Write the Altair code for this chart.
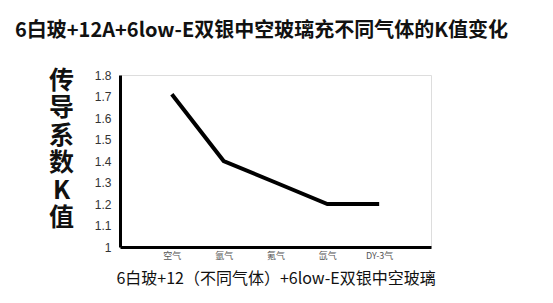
import altair as alt
import pandas as pd

gases = ["空气", "氩气", "氪气", "氙气", "DY-3气"]
k_values = [1.71, 1.40, 1.30, 1.20, 1.20]
y_ticks = [1.0, 1.1, 1.2, 1.3, 1.4, 1.5, 1.6, 1.7, 1.8]

df = pd.DataFrame({"gas": gases, "k": k_values})

FONT = "Noto Sans CJK SC"

chart = alt.Chart(df).mark_line(color="black", strokeWidth=4).encode(
    x=alt.X("gas:N", sort=gases,
            scale=alt.Scale(type="point", padding=1),
            axis=alt.Axis(title="6白玻+12（不同气体）+6low-E双银中空玻璃",
                          titleFont=FONT, titleFontSize=16, titleFontWeight="normal",
                          titleColor="#111", titlePadding=10,
                          labelFont=FONT, labelFontSize=9, labelColor="#555",
                          labelAngle=0, labelPadding=4,
                          ticks=False, grid=False,
                          domainColor="black", domainWidth=3)),
    y=alt.Y("k:Q",
            scale=alt.Scale(domain=[1.0, 1.8], nice=False, zero=False),
            axis=alt.Axis(values=y_ticks, labelExpr="format(datum.value, '')",
                          title=["传", "导", "系", "数", "K", "值"],
                          titleAngle=0, titleFont=FONT, titleFontSize=25,
                          titleFontWeight="bold", titleColor="#111",
                          titleLineHeight=27.5, titleAlign="center",
                          titleBaseline="top", titleX=-59, titleY=-7,
                          labelFont="Liberation Sans", labelFontSize=12,
                          labelColor="#333", labelPadding=9,
                          ticks=False, grid=False,
                          domainColor="black", domainWidth=3)),
).properties(
    width=311, height=172,
    title=alt.TitleParams("6白玻+12A+6low-E双银中空玻璃充不同气体的K值变化",
                          font=FONT, fontSize=20, fontWeight="bold",
                          color="#111", anchor="middle", offset=27, dx=-14),
    autosize=alt.AutoSizeParams(type="none"),
    padding={"left": 120, "top": 75, "right": 122, "bottom": 56},
).configure_view(stroke=None).configure(background="white")

chart.save("out.html", embed_options={"renderer": "svg", "actions": False})
